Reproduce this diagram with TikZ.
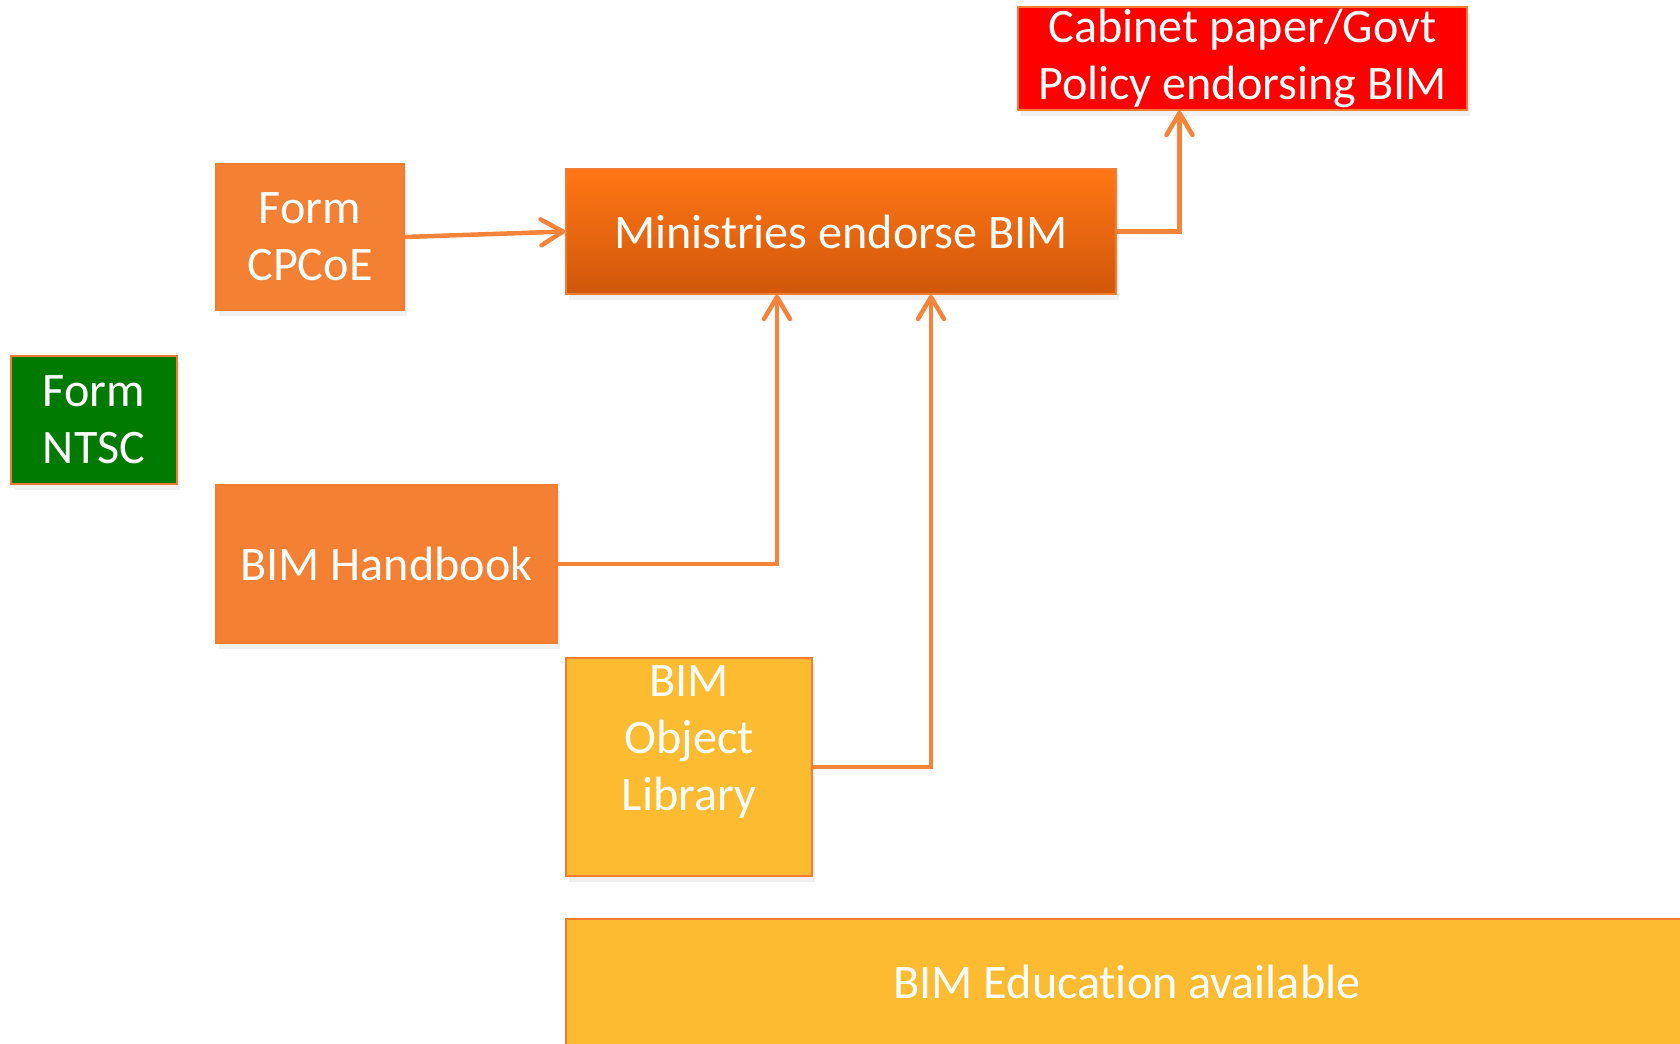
\documentclass[tikz,border=0pt]{standalone}
\usepackage{fontspec}
\setmainfont{Carlito}[Ligatures=CommonOff]
\usetikzlibrary{arrows.meta,shadows}

\definecolor{boxorange}{HTML}{F48033}
\definecolor{edgeorange}{HTML}{F47C30}
\definecolor{linkorange}{HTML}{F5843A}
\definecolor{mintop}{HTML}{FF7614}
\definecolor{minbot}{HTML}{D1570B}
\definecolor{cabred}{HTML}{FF0000}
\definecolor{ntscgreen}{HTML}{007A00}
\definecolor{libyellow}{HTML}{FCBB30}

\begin{document}
\begin{tikzpicture}[x=0.1mm,y=-0.1mm]
\tikzstyle{box}=[draw=edgeorange,line width=0.15mm,text=white,inner sep=0pt,align=center,
  font=\fontsize{13.7}{16.2}\selectfont,
  drop shadow={shadow xshift=0.3mm,shadow yshift=-0.6mm,opacity=0.12}]
\tikzstyle{link}=[draw=linkorange,line width=0.45mm,-{Straight Barb[length=2.2mm,width=2.6mm,round]}]
\useasboundingbox (0,0) rectangle (1680,1043);
\clip (0,0) rectangle (1680,1043);
% boxes
\path (1242.5,58.5) node[box,fill=cabred,minimum width=44.9mm,minimum height=10.3mm] (cab) {Cabinet paper/Govt\\Policy endorsing BIM};
\path (310,237) node[box,fill=boxorange,minimum width=18.8mm,minimum height=14.6mm] (cpcoe) {Form\\CPCoE};
\path (841,231.5) node[box,top color=mintop,bottom color=minbot,minimum width=55mm,minimum height=12.5mm] (min) {Ministries endorse BIM};
\path (94,420) node[box,fill=ntscgreen,minimum width=16.6mm,minimum height=12.8mm] (ntsc) {Form\\NTSC};
\path (386.5,564) node[box,fill=boxorange,minimum width=34.1mm,minimum height=15.8mm] (hb) {BIM Handbook};
\path (689,767) node[box,fill=libyellow,minimum width=24.6mm,minimum height=21.8mm] (lib) {};
\path (689,742) node[text=white,align=center,inner sep=0pt,font=\fontsize{13.7}{16.2}\selectfont] (libtext) {BIM\\Object\\Library};
\path (1127,982) node[box,fill=libyellow,minimum width=112.2mm,minimum height=12.6mm] (edu) {BIM Education available};
% links
\draw[link] (cpcoe.east) -- (min.west);
\draw[link] (min.east) -| ([xshift=-6.3mm]cab.south);
\draw[link] (hb.east) -| ([xshift=-6.4mm]min.south);
\draw[link] (lib.east) -| ([xshift=9mm]min.south);
\end{tikzpicture}
\end{document}
